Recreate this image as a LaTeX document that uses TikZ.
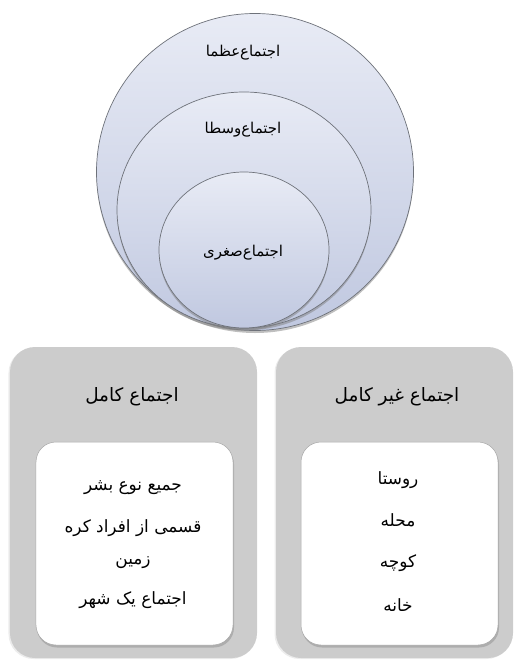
\documentclass[tikz,border=0pt]{standalone}
\usepackage{fontspec}
\usetikzlibrary{shapes.geometric, shadows}
\TeXXeTstate=1
\newfontfamily\arabicfont[Script=Arabic]{DejaVu Sans}
\definecolor{ringtop}{RGB}{232,235,245}
\definecolor{ringbottom}{RGB}{192,200,224}
\definecolor{ringline}{RGB}{110,114,122}
\definecolor{panelgray}{RGB}{204,204,204}

\begin{document}
\begin{tikzpicture}[x=1bp, y=-1bp,
	ring/.style={draw=ringline, line width=0.7bp, inner sep=0pt, top color=ringtop, bottom color=ringbottom,
		drop shadow={shadow xshift=0bp, shadow yshift=-2.5bp, opacity=0.5}},
	ringlabel/.style={font=\arabicfont\fontsize{15}{17}\selectfont, inner sep=1bp},
	panel/.style={fill=panelgray, rounded corners=25bp, inner sep=0pt,
		drop shadow={shadow xshift=-1.5bp, shadow yshift=-1bp, opacity=0.15}},
	card/.style={fill=white, draw=gray!70, line width=0.5bp, rounded corners=20bp, inner sep=0pt,
		drop shadow={shadow xshift=1bp, shadow yshift=-2.5bp, opacity=0.4}},
	paneltitle/.style={font=\arabicfont\fontsize{18.5}{21}\selectfont, inner sep=1bp},
	paneltext/.style={font=\arabicfont\fontsize{17}{20}\selectfont, inner sep=1bp}]
	\useasboundingbox (0,0) rectangle (515,662);
	% nested circles
	\node[ring, circle, minimum size=317bp] (kobra) at (255,172) {};
	\node[ring, ellipse, minimum width=254bp, minimum height=236bp] (vosta) at (244,210) {};
	\node[ring, ellipse, minimum width=170bp, minimum height=156bp] (soghra) at (244,250) {};
	\node[ringlabel] (kobratext) at (243,53) {\beginR اجتماع‌عظما\endR};
	\node[ringlabel] (vostatext) at (243,130) {\beginR اجتماع‌وسطا\endR};
	\node[ringlabel] (soghratext) at (243,253) {\beginR اجتماع‌صغری\endR};
	% two panels
	\node[panel, minimum width=247bp, minimum height=311bp] (kamel) at (133.5,502.5) {};
	\node[panel, minimum width=237bp, minimum height=311bp] (naghes) at (394.5,502.5) {};
	\node[paneltitle] (kameltitle) at (132,397) {\beginR اجتماع کامل\endR};
	\node[paneltitle] (naghestitle) at (397,397) {\beginR اجتماع غیر کامل\endR};
	\node[card, minimum width=197bp, minimum height=203bp] (kamelcard) at (134.5,543.5) {};
	\node[card, minimum width=197bp, minimum height=203bp] (naghescard) at (399.5,543.5) {};
	% items
	\node[paneltext] (bashar) at (133,488) {\beginR جمیع نوع بشر\endR};
	\node[paneltext] (afrad) at (133,528) {\beginR قسمی از افراد کره\endR};
	\node[paneltext] (zamin) at (133,563) {\beginR زمین\endR};
	\node[paneltext] (shahr) at (133,600) {\beginR اجتماع یک شهر\endR};
	\node[paneltext] (rousta) at (398,480) {\beginR روستا\endR};
	\node[paneltext] (mahalle) at (398,520) {\beginR محله\endR};
	\node[paneltext] (kouche) at (398,563) {\beginR کوچه\endR};
	\node[paneltext] (khane) at (398,605) {\beginR خانه\endR};
\end{tikzpicture}
\end{document}
